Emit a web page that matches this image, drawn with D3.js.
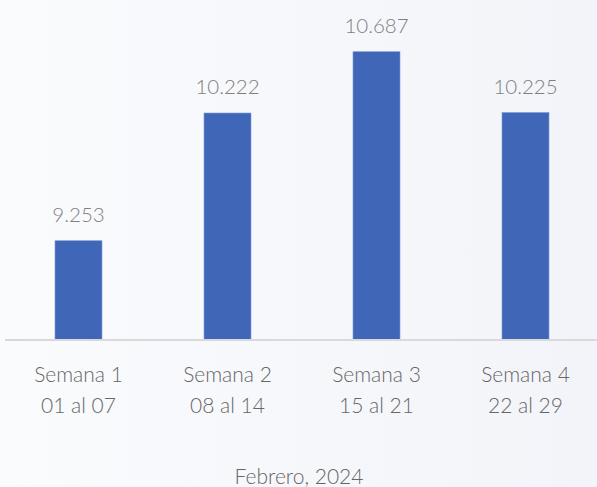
<!DOCTYPE html>
<html><head><meta charset="utf-8">
<script src="https://cdn.jsdelivr.net/npm/d3@7"></script>
<style>html,body{margin:0;padding:0;overflow:hidden;background:#f6f7fb;}</style>
</head><body>
<script>
const categories = ["Semana 1", "Semana 2", "Semana 3", "Semana 4"];
const ranges = ["01 al 07", "08 al 14", "15 al 21", "22 al 29"];
const values = [9253, 10222, 10687, 10225];
const valueLabels = ["9.253", "10.222", "10.687", "10.225"];
const axisTitle = "Febrero, 2024";
const yDomain = [8500, 11000];

const W = 597, H = 487;
const svg = d3.select("body").append("svg").attr("width", W).attr("height", H);
const defs = svg.append("defs");
const g = defs.append("linearGradient").attr("id","bg").attr("x1","0").attr("x2","1").attr("y1","0").attr("y2","0");
g.append("stop").attr("offset","0").attr("stop-color","#fafbfd");
g.append("stop").attr("offset","1").attr("stop-color","#f3f4f9");
svg.append("rect").attr("width",W).attr("height",H).attr("fill","url(#bg)");

const x = d3.scaleBand().domain(categories).range([4, 600]).paddingInner(0.685).paddingOuter(0.3425);
const y = d3.scaleLinear().domain(yDomain).range([340, 10.5]);
const font = "Lato, 'Open Sans', sans-serif";

svg.selectAll("rect.bar").data(values).enter().append("rect")
  .attr("class","bar")
  .attr("x",(d,i)=>x(categories[i]))
  .attr("y",d=>y(d))
  .attr("width",x.bandwidth())
  .attr("height",d=>y(yDomain[0])-y(d))
  .attr("fill","#4067b7")
  .attr("stroke","#6d8dd0").attr("stroke-width",0.6);

const axis = d3.axisBottom(x).tickSize(0).tickFormat("");
const ax = svg.append("g").attr("transform","translate(0,340)").call(axis);
ax.select(".domain").attr("d","M5,0H597").attr("stroke","#d9d9d9").attr("stroke-width",2);

svg.selectAll("text.val").data(values).enter().append("text")
  .attr("class","val")
  .attr("x",(d,i)=>x(categories[i])+x.bandwidth()/2)
  .attr("y",d=>y(d)-19)
  .attr("text-anchor","middle")
  .attr("font-family",font).attr("font-weight",300).attr("font-size",20.5)
  .attr("fill","#7f7f7f")
  .text((d,i)=>valueLabels[i]);

categories.forEach((c,i)=>{
  const cx = x(c)+x.bandwidth()/2;
  svg.append("text").attr("x",cx).attr("y",382).attr("text-anchor","middle")
    .attr("font-family",font).attr("font-weight",300).attr("font-size",21).attr("fill","#666")
    .text(c);
  svg.append("text").attr("x",cx).attr("y",413).attr("text-anchor","middle")
    .attr("font-family",font).attr("font-weight",300).attr("font-size",21).attr("fill","#666")
    .text(ranges[i]);
});

svg.append("text").attr("x",299).attr("y",484).attr("text-anchor","middle")
  .attr("font-family",font).attr("font-weight",300).attr("font-size",21).attr("fill","#666")
  .text(axisTitle);
</script>
</body></html>
